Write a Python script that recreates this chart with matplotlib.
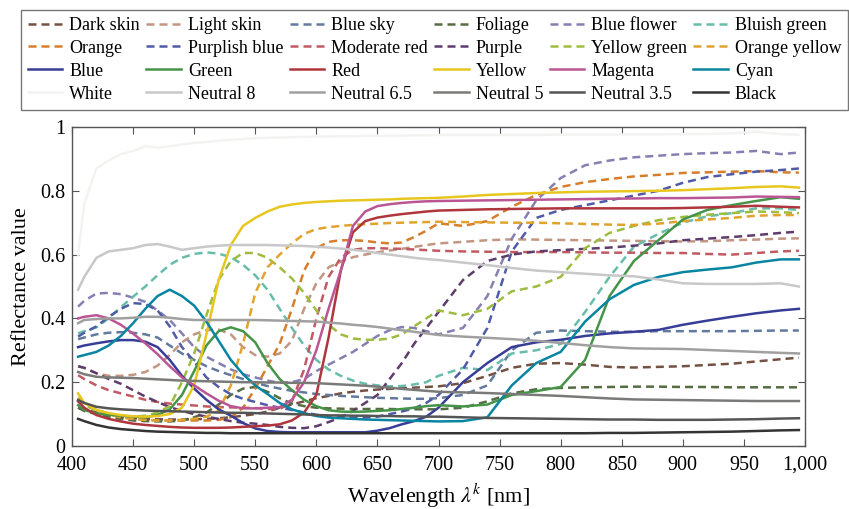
import matplotlib
matplotlib.use('Agg')
import matplotlib.pyplot as plt
from matplotlib.ticker import FuncFormatter, MultipleLocator

# wavelength grid [nm]
wl = [405, 410, 420, 430, 440, 450, 460, 470, 480, 490,
      500, 510, 520, 530, 540, 550, 560, 570, 580, 590,
      600, 610, 620, 630, 640, 650, 660, 670, 680, 690,
      700, 720, 740, 760, 780, 800, 820, 840, 860, 880,
      900, 920, 940, 960, 980, 995]

dark_skin = [0.120, 0.115, 0.105, 0.097, 0.092, 0.088, 0.085, 0.084, 0.083, 0.083,
             0.084, 0.085, 0.087, 0.090, 0.095, 0.100, 0.108, 0.120, 0.130, 0.140,
             0.150, 0.157, 0.165, 0.170, 0.174, 0.177, 0.179, 0.181, 0.183, 0.185,
             0.187, 0.197, 0.220, 0.245, 0.258, 0.260, 0.255, 0.248, 0.246, 0.248,
             0.250, 0.254, 0.258, 0.265, 0.272, 0.277]
light_skin = [0.250, 0.245, 0.228, 0.220, 0.220, 0.223, 0.232, 0.252, 0.285, 0.325,
              0.350, 0.363, 0.365, 0.350, 0.310, 0.285, 0.280, 0.290, 0.330, 0.430,
              0.510, 0.560, 0.578, 0.592, 0.600, 0.607, 0.613, 0.618, 0.624, 0.630,
              0.635, 0.640, 0.645, 0.648, 0.647, 0.646, 0.645, 0.644, 0.643, 0.642,
              0.641, 0.642, 0.645, 0.647, 0.650, 0.651]
blue_sky = [0.335, 0.340, 0.350, 0.355, 0.357, 0.355, 0.350, 0.340, 0.315, 0.290,
            0.270, 0.250, 0.235, 0.222, 0.210, 0.198, 0.188, 0.180, 0.173, 0.168,
            0.163, 0.160, 0.157, 0.155, 0.153, 0.151, 0.150, 0.149, 0.148, 0.148,
            0.150, 0.160, 0.190, 0.300, 0.355, 0.362, 0.360, 0.358, 0.358, 0.360,
            0.360, 0.360, 0.360, 0.361, 0.362, 0.362]
foliage = [0.120, 0.110, 0.100, 0.090, 0.085, 0.080, 0.078, 0.077, 0.077, 0.080,
           0.090, 0.105, 0.130, 0.160, 0.180, 0.185, 0.170, 0.150, 0.133, 0.125,
           0.120, 0.118, 0.117, 0.116, 0.116, 0.116, 0.116, 0.115, 0.115, 0.115,
           0.115, 0.120, 0.140, 0.165, 0.178, 0.182, 0.184, 0.185, 0.186, 0.186,
           0.185, 0.185, 0.184, 0.184, 0.184, 0.184]
blue_flower = [0.437, 0.455, 0.478, 0.480, 0.476, 0.465, 0.452, 0.425, 0.395, 0.353,
               0.310, 0.280, 0.260, 0.240, 0.225, 0.215, 0.205, 0.198, 0.200, 0.210,
               0.235, 0.255, 0.275, 0.295, 0.320, 0.345, 0.363, 0.373, 0.370, 0.360,
               0.350, 0.370, 0.470, 0.650, 0.770, 0.840, 0.880, 0.895, 0.905, 0.910,
               0.915, 0.918, 0.920, 0.925, 0.915, 0.920]
bluish_green = [0.353, 0.360, 0.372, 0.400, 0.435, 0.468, 0.500, 0.535, 0.568, 0.590,
                0.602, 0.607, 0.603, 0.592, 0.568, 0.535, 0.490, 0.430, 0.370, 0.315,
                0.270, 0.240, 0.220, 0.205, 0.195, 0.190, 0.187, 0.188, 0.193, 0.200,
                0.220, 0.245, 0.238, 0.290, 0.300, 0.320, 0.420, 0.530, 0.625, 0.665,
                0.700, 0.720, 0.730, 0.745, 0.745, 0.740]
orange = [0.150, 0.135, 0.115, 0.100, 0.090, 0.085, 0.082, 0.080, 0.080, 0.080,
          0.080, 0.080, 0.082, 0.090, 0.120, 0.180, 0.250, 0.320, 0.430, 0.550,
          0.620, 0.640, 0.645, 0.645, 0.643, 0.638, 0.635, 0.638, 0.655, 0.675,
          0.698, 0.690, 0.705, 0.750, 0.787, 0.812, 0.827, 0.837, 0.845, 0.850,
          0.856, 0.858, 0.860, 0.862, 0.858, 0.857]
purplish_blue = [0.343, 0.355, 0.375, 0.405, 0.430, 0.448, 0.445, 0.425, 0.375, 0.310,
                 0.265, 0.215, 0.185, 0.162, 0.148, 0.138, 0.128, 0.120, 0.113, 0.105,
                 0.098, 0.093, 0.090, 0.088, 0.089, 0.092, 0.100, 0.108, 0.118, 0.135,
                 0.160, 0.240, 0.370, 0.610, 0.715, 0.740, 0.755, 0.770, 0.785, 0.800,
                 0.825, 0.843, 0.852, 0.860, 0.865, 0.870]
moderate_red = [0.222, 0.210, 0.190, 0.175, 0.165, 0.155, 0.145, 0.138, 0.133, 0.130,
                0.127, 0.124, 0.122, 0.121, 0.120, 0.119, 0.116, 0.115, 0.140, 0.240,
                0.400, 0.530, 0.590, 0.615, 0.620, 0.620, 0.619, 0.618, 0.616, 0.614,
                0.612, 0.610, 0.609, 0.608, 0.608, 0.608, 0.607, 0.606, 0.606, 0.605,
                0.605, 0.602, 0.600, 0.605, 0.610, 0.612]
purple = [0.250, 0.245, 0.228, 0.210, 0.195, 0.175, 0.155, 0.138, 0.122, 0.110,
          0.100, 0.092, 0.085, 0.078, 0.073, 0.070, 0.066, 0.060, 0.057, 0.056,
          0.062, 0.075, 0.090, 0.110, 0.135, 0.160, 0.210, 0.260, 0.320, 0.370,
          0.420, 0.520, 0.580, 0.600, 0.610, 0.614, 0.618, 0.622, 0.628, 0.635,
          0.645, 0.650, 0.655, 0.661, 0.668, 0.672]
yellow_green = [0.150, 0.130, 0.110, 0.100, 0.095, 0.092, 0.095, 0.105, 0.125, 0.200,
                0.290, 0.410, 0.520, 0.580, 0.605, 0.605, 0.590, 0.560, 0.525, 0.480,
                0.425, 0.380, 0.350, 0.337, 0.333, 0.333, 0.337, 0.350, 0.375, 0.400,
                0.425, 0.410, 0.430, 0.485, 0.500, 0.530, 0.620, 0.668, 0.690, 0.708,
                0.718, 0.725, 0.730, 0.735, 0.733, 0.730]
orange_yellow = [0.150, 0.135, 0.115, 0.100, 0.090, 0.085, 0.082, 0.080, 0.080, 0.082,
                 0.085, 0.092, 0.110, 0.190, 0.320, 0.480, 0.560, 0.600, 0.635, 0.665,
                 0.680, 0.686, 0.690, 0.693, 0.695, 0.697, 0.699, 0.700, 0.701, 0.702,
                 0.703, 0.702, 0.701, 0.700, 0.700, 0.698, 0.696, 0.694, 0.693, 0.697,
                 0.705, 0.710, 0.715, 0.722, 0.724, 0.724]
blue = [0.310, 0.315, 0.322, 0.328, 0.332, 0.332, 0.327, 0.310, 0.270, 0.220,
        0.180, 0.145, 0.115, 0.095, 0.072, 0.055, 0.047, 0.044, 0.043, 0.043,
        0.043, 0.043, 0.043, 0.043, 0.043, 0.048, 0.056, 0.068, 0.078, 0.092,
        0.120, 0.200, 0.260, 0.310, 0.325, 0.333, 0.345, 0.353, 0.358, 0.364,
        0.380, 0.393, 0.405, 0.416, 0.425, 0.430]
green = [0.128, 0.113, 0.102, 0.098, 0.095, 0.092, 0.090, 0.097, 0.115, 0.160,
         0.235, 0.315, 0.360, 0.372, 0.360, 0.325, 0.260, 0.210, 0.175, 0.145,
         0.125, 0.112, 0.108, 0.107, 0.108, 0.110, 0.112, 0.116, 0.120, 0.125,
         0.128, 0.124, 0.130, 0.160, 0.172, 0.185, 0.270, 0.470, 0.580, 0.645,
         0.710, 0.740, 0.755, 0.768, 0.780, 0.775]
red = [0.140, 0.120, 0.097, 0.085, 0.077, 0.070, 0.066, 0.063, 0.060, 0.058,
       0.057, 0.057, 0.057, 0.058, 0.060, 0.062, 0.064, 0.068, 0.080, 0.105,
       0.160, 0.340, 0.550, 0.670, 0.705, 0.716, 0.722, 0.727, 0.731, 0.735,
       0.738, 0.740, 0.742, 0.743, 0.744, 0.745, 0.745, 0.745, 0.745, 0.745,
       0.746, 0.748, 0.750, 0.753, 0.750, 0.748]
yellow = [0.165, 0.135, 0.113, 0.103, 0.097, 0.093, 0.092, 0.094, 0.100, 0.120,
          0.190, 0.350, 0.520, 0.630, 0.690, 0.715, 0.735, 0.750, 0.757, 0.762,
          0.765, 0.767, 0.769, 0.770, 0.771, 0.772, 0.773, 0.775, 0.776, 0.777,
          0.778, 0.782, 0.787, 0.790, 0.793, 0.795, 0.797, 0.798, 0.799, 0.800,
          0.802, 0.805, 0.808, 0.812, 0.814, 0.810]
magenta = [0.400, 0.405, 0.410, 0.400, 0.380, 0.352, 0.322, 0.288, 0.250, 0.215,
           0.190, 0.165, 0.142, 0.125, 0.118, 0.118, 0.120, 0.122, 0.145, 0.200,
           0.300, 0.430, 0.550, 0.690, 0.735, 0.752, 0.758, 0.762, 0.765, 0.767,
           0.768, 0.769, 0.770, 0.771, 0.772, 0.773, 0.774, 0.775, 0.776, 0.777,
           0.777, 0.778, 0.779, 0.782, 0.781, 0.780]
cyan = [0.280, 0.285, 0.295, 0.315, 0.345, 0.385, 0.430, 0.470, 0.490, 0.470,
        0.440, 0.390, 0.330, 0.270, 0.225, 0.190, 0.163, 0.135, 0.115, 0.103,
        0.094, 0.089, 0.087, 0.085, 0.083, 0.082, 0.081, 0.080, 0.079, 0.078,
        0.077, 0.078, 0.090, 0.190, 0.260, 0.295, 0.390, 0.460, 0.505, 0.530,
        0.545, 0.553, 0.560, 0.575, 0.585, 0.585]
white = [0.600, 0.760, 0.870, 0.895, 0.915, 0.925, 0.940, 0.935, 0.940, 0.945,
         0.950, 0.953, 0.957, 0.960, 0.962, 0.965, 0.966, 0.967, 0.968, 0.969,
         0.970, 0.970, 0.971, 0.971, 0.972, 0.972, 0.973, 0.973, 0.974, 0.974,
         0.975, 0.975, 0.975, 0.975, 0.975, 0.976, 0.976, 0.976, 0.977, 0.977,
         0.978, 0.978, 0.980, 0.985, 0.978, 0.975]
neutral_8 = [0.490, 0.530, 0.590, 0.610, 0.615, 0.620, 0.630, 0.633, 0.625, 0.615,
             0.620, 0.625, 0.628, 0.630, 0.630, 0.630, 0.630, 0.629, 0.628, 0.627,
             0.625, 0.622, 0.619, 0.615, 0.611, 0.605, 0.600, 0.595, 0.590, 0.586,
             0.583, 0.575, 0.567, 0.558, 0.550, 0.545, 0.540, 0.535, 0.532, 0.522,
             0.510, 0.508, 0.508, 0.508, 0.510, 0.500]
neutral_65 = [0.385, 0.395, 0.398, 0.400, 0.400, 0.402, 0.405, 0.405, 0.402, 0.398,
              0.395, 0.395, 0.395, 0.395, 0.395, 0.395, 0.394, 0.393, 0.392, 0.391,
              0.390, 0.387, 0.384, 0.380, 0.377, 0.373, 0.368, 0.363, 0.358, 0.353,
              0.348, 0.343, 0.339, 0.335, 0.330, 0.323, 0.316, 0.310, 0.306, 0.305,
              0.304, 0.301, 0.298, 0.295, 0.292, 0.290]
neutral_5 = [0.232, 0.225, 0.217, 0.215, 0.214, 0.213, 0.211, 0.209, 0.207, 0.205,
             0.204, 0.203, 0.202, 0.201, 0.200, 0.200, 0.199, 0.199, 0.198, 0.198,
             0.197, 0.195, 0.193, 0.191, 0.189, 0.186, 0.183, 0.179, 0.176, 0.173,
             0.170, 0.168, 0.166, 0.163, 0.160, 0.157, 0.153, 0.149, 0.146, 0.145,
             0.144, 0.143, 0.142, 0.141, 0.141, 0.141]
neutral_35 = [0.144, 0.135, 0.123, 0.118, 0.115, 0.113, 0.111, 0.110, 0.109, 0.108,
              0.107, 0.106, 0.105, 0.104, 0.104, 0.103, 0.102, 0.101, 0.100, 0.099,
              0.097, 0.096, 0.096, 0.095, 0.095, 0.094, 0.094, 0.093, 0.093, 0.092,
              0.092, 0.090, 0.088, 0.087, 0.086, 0.085, 0.084, 0.083, 0.083, 0.082,
              0.082, 0.082, 0.083, 0.084, 0.086, 0.087]
black = [0.085, 0.078, 0.066, 0.058, 0.053, 0.050, 0.047, 0.045, 0.044, 0.043,
         0.042, 0.041, 0.041, 0.040, 0.040, 0.040, 0.040, 0.040, 0.040, 0.040,
         0.040, 0.040, 0.040, 0.040, 0.040, 0.040, 0.040, 0.040, 0.040, 0.040,
         0.040, 0.040, 0.040, 0.040, 0.040, 0.040, 0.040, 0.041, 0.041, 0.042,
         0.043, 0.044, 0.045, 0.047, 0.049, 0.050]

names = ['Dark skin', 'Light skin', 'Blue sky', 'Foliage', 'Blue flower', 'Bluish green',
         'Orange', 'Purplish blue', 'Moderate red', 'Purple', 'Yellow green', 'Orange yellow',
         'Blue', 'Green', 'Red', 'Yellow', 'Magenta', 'Cyan',
         'White', 'Neutral 8', 'Neutral 6.5', 'Neutral 5', 'Neutral 3.5', 'Black']
series = [dark_skin, light_skin, blue_sky, foliage, blue_flower, bluish_green,
          orange, purplish_blue, moderate_red, purple, yellow_green, orange_yellow,
          blue, green, red, yellow, magenta, cyan,
          white, neutral_8, neutral_65, neutral_5, neutral_35, black]
colors = ['#735244', '#c29682', '#627a9d', '#576c43', '#8580b1', '#67bdaa',
          '#d67e2c', '#505ba6', '#c15a63', '#5e3c6c', '#9dbc40', '#e0a32e',
          '#383d96', '#469449', '#af363c', '#e7c71f', '#bb5695', '#0885a1',
          '#f3f3f2', '#c8c8c8', '#a0a0a0', '#7a7a79', '#555555', '#343434']

plt.rcParams['font.family'] = ['Liberation Serif', 'DejaVu Serif']
plt.rcParams['mathtext.fontset'] = 'stix'

fig = plt.figure(figsize=(8.49, 5.09), dpi=100)
ax = fig.add_axes([72/849, 63/509, 733/849, 319/509])

handles = []
for i, (name, ys, c) in enumerate(zip(names, series, colors)):
    if i < 12:
        h, = ax.plot(wl, ys, color=c, lw=1.8, ls=(0, (3.2, 2.0)), label=name)
    else:
        h, = ax.plot(wl, ys, color=c, lw=1.8, label=name)
    handles.append(h)

ax.set_xlim(400, 1000)
ax.set_ylim(0, 1)
ax.xaxis.set_major_locator(MultipleLocator(50))
ax.yaxis.set_major_locator(MultipleLocator(0.2))
ax.xaxis.set_major_formatter(FuncFormatter(lambda v, p: '{:,}'.format(int(round(v)))))
ax.yaxis.set_major_formatter(FuncFormatter(lambda v, p: '%g' % round(v, 1)))
ax.tick_params(direction='in', length=5, width=0.8, color='#555555',
               top=True, right=True, labelsize=14.5)
ax.tick_params(axis='x', pad=7)
ax.tick_params(axis='y', pad=5)
for s in ax.spines.values():
    s.set_color('#555555')
    s.set_linewidth(1.0)

ax.set_xlabel(r'Wavelength $\lambda^k$ [nm]', fontsize=16, labelpad=5)
ax.set_ylabel('Reflectance value', fontsize=16, labelpad=6)

# legend is filled column-wise, reorder so that it reads row-wise
order = [r * 6 + c for c in range(6) for r in range(4)]
leg = fig.legend([handles[k] for k in order], [names[k] for k in order],
                 ncol=6, loc='upper left', bbox_to_anchor=(21/849, 1 - 10/509),
                 frameon=True, fancybox=False, edgecolor='#555555', fontsize=13,
                 handlelength=1.9, handletextpad=0.4, columnspacing=0.35,
                 labelspacing=0.33, borderpad=0.38, borderaxespad=0)
leg.get_frame().set_linewidth(1.0)

fig.savefig('out.png', dpi=100)
